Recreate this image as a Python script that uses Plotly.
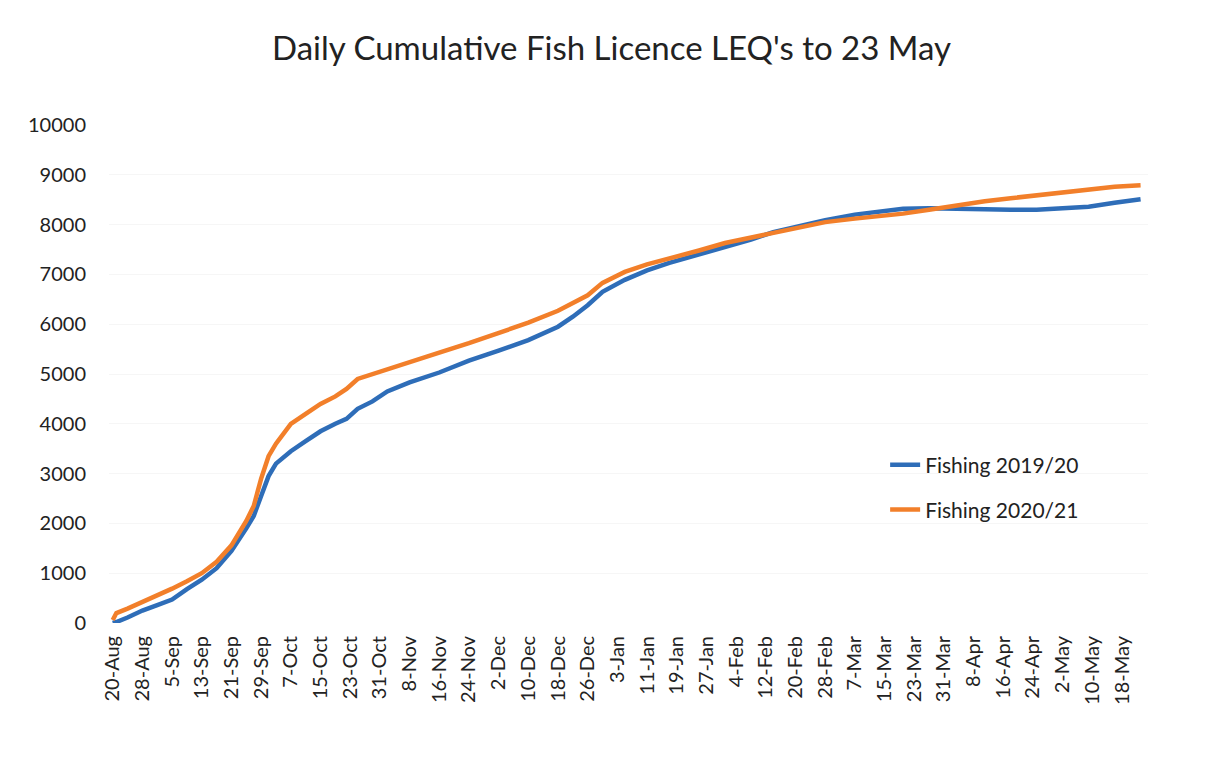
import plotly.graph_objects as go

# Tick labels (every 8 days starting 20-Aug)
tick_labels = ["20-Aug", "28-Aug", "5-Sep", "13-Sep", "21-Sep", "29-Sep", "7-Oct",
               "15-Oct", "23-Oct", "31-Oct", "8-Nov", "16-Nov", "24-Nov", "2-Dec",
               "10-Dec", "18-Dec", "26-Dec", "3-Jan", "11-Jan", "19-Jan", "27-Jan",
               "4-Feb", "12-Feb", "20-Feb", "28-Feb", "7-Mar", "15-Mar", "23-Mar",
               "31-Mar", "8-Apr", "16-Apr", "24-Apr", "2-May", "10-May", "18-May"]
tick_days = [i * 8 for i in range(len(tick_labels))]
y_ticks = [0, 1000, 2000, 3000, 4000, 5000, 6000, 7000, 8000, 9000, 10000]
y_tick_labels = ["0", "1000", "2000", "3000", "4000", "5000", "6000", "7000", "8000",
                 "9000", "10000"]

# Sample days (days since 20-Aug) and cumulative LEQ values
days = [0, 1, 4, 8, 12, 16, 20, 24, 28, 32, 36, 38, 40, 42, 44, 48, 52, 56, 60, 63,
        66, 70, 74, 80, 88, 96, 104, 112, 120, 124, 128, 132, 138, 144, 150, 158,
        165, 172, 178, 185, 192, 200, 206, 213, 220, 227, 235, 242, 249, 256, 263,
        270, 277]
fishing_2019_20 = [0, 20, 110, 250, 360, 470, 680, 870, 1100, 1450, 1900, 2150, 2550,
                   2950, 3200, 3450, 3650, 3850, 4000, 4100, 4300, 4450, 4650, 4830,
                   5030, 5270, 5470, 5680, 5950, 6150, 6380, 6650, 6890, 7080, 7230,
                   7400, 7550, 7700, 7850, 7970, 8090, 8200, 8260, 8320, 8330, 8330,
                   8310, 8300, 8300, 8330, 8360, 8440, 8510]
fishing_2020_21 = [60, 200, 290, 420, 540, 690, 840, 1000, 1230, 1560, 2050, 2350, 2900,
                   3350, 3600, 4000, 4200, 4400, 4550, 4700, 4900, 5000, 5100, 5230,
                   5430, 5620, 5830, 6030, 6270, 6420, 6580, 6830, 7050, 7200, 7330,
                   7480, 7630, 7740, 7850, 7950, 8050, 8120, 8160, 8220, 8300, 8390,
                   8470, 8530, 8590, 8650, 8710, 8760, 8790]

fig = go.Figure()
fig.add_trace(go.Scatter(x=days, y=fishing_2019_20, mode="lines", name="Fishing 2019/20",
                         line=dict(color="#2E6DB8", width=4.5), legend="legend"))
fig.add_trace(go.Scatter(x=days, y=fishing_2020_21, mode="lines", name="Fishing 2020/21",
                         line=dict(color="#F27F2A", width=4.5), legend="legend2"))

legend_common = dict(xanchor="left", yanchor="middle", bgcolor="rgba(0,0,0,0)",
                     font=dict(size=21, color="#222222"))

fig.update_layout(
    width=1207, height=780,
    paper_bgcolor="white", plot_bgcolor="white",
    margin=dict(l=101, r=67, t=117, b=165),
    title=dict(text="Daily Cumulative Fish Licence LEQ's to 23 May",
               x=0.5, xanchor="center", y=0.948, yanchor="middle",
               font=dict(family="Lato, Open Sans, sans-serif", size=33, color="#222222")),
    font=dict(family="Lato, Open Sans, sans-serif", color="#222222"),
    showlegend=True,
    legend=dict(x=0.747, y=0.317, **legend_common),
    legend2=dict(x=0.747, y=0.227, **legend_common),
    xaxis=dict(range=[-1, 279], tickmode="array", tickvals=tick_days, ticktext=tick_labels,
               tickangle=-90, tickfont=dict(size=20), showgrid=False, zeroline=False,
               showline=False, ticks="", ticklabelstandoff=8),
    yaxis=dict(range=[0, 10000], tickmode="array", tickvals=y_ticks,
               ticktext=y_tick_labels, tickfont=dict(size=20), showgrid=True,
               gridcolor="#f6f6f6", zeroline=False, showline=False, ticks="",
               ticklabelstandoff=22),
)

fig.write_html("out.html")
